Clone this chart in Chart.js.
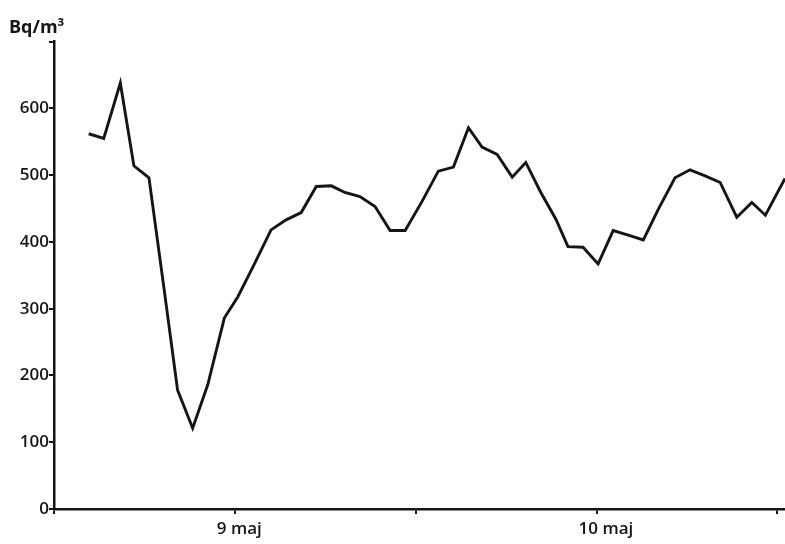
<!DOCTYPE html>
<html>
<head>
<meta charset="utf-8">
<script src="https://cdn.jsdelivr.net/npm/chart.js@4/dist/chart.umd.min.js"></script>
<style>
  html, body { margin: 0; padding: 0; background: #ffffff; }
  #wrap { width: 785px; height: 544px; position: relative; }
</style>
</head>
<body>
<div id="wrap"><canvas id="c"></canvas></div>
<script>
// Radon concentration, hourly readings (hours counted from 8 maj 12:00)
const hours = [2.3, 3.3, 4.4, 5.3, 6.3, 7.3, 8.2, 9.2, 10.2, 11.3,
               12.2, 13.3, 14.4, 15.4, 16.4, 17.4, 18.4, 19.3, 20.3, 21.3,
               22.3, 23.3, 24.4, 25.5, 26.5, 27.5, 28.4, 29.4, 30.4, 31.3,
               32.3, 33.3, 34.1, 35.1, 36.1, 37.1, 38.1, 39.1, 40.1, 41.2,
               42.2, 43.2, 44.2, 45.3, 46.3, 47.2, 48.5];
const radon = [562, 555, 638, 514, 496, 330, 178, 121, 186, 286,
               318, 367, 418, 433, 444, 483, 484, 474, 468, 453,
               417, 417, 460, 506, 512, 571, 542, 531, 497, 519,
               474, 434, 393, 392, 367, 417, 410, 403, 449, 496,
               508, 499, 489, 437, 459, 440, 495];

// x-axis ticks every 12 hours; only midnights carry a date label
const xTicks = [0, 12, 24, 36, 48];
const xTickLabels = ['', '9 maj', '', '10 maj', ''];
const yTicks = [0, 100, 200, 300, 400, 500, 600, 700];
const yTickLabels = ['0', '100', '200', '300', '400', '500', '600', ''];
const unitLabel = 'Bq/m\u00B3';

const points = hours.map((h, i) => ({ x: h, y: radon[i] }));
const ink = '#151515';
const tickFont = { family: 'Open Sans', size: 17, weight: '600' };

new Chart(document.getElementById('c'), {
  type: 'line',
  data: {
    datasets: [{
      data: points,
      borderColor: ink,
      borderWidth: 2.9,
      pointRadius: 0,
      tension: 0,
      fill: false
    }]
  },
  options: {
    responsive: true,
    maintainAspectRatio: false,
    animation: false,
    layout: { padding: { left: 9, right: 0, top: 0, bottom: 0 } },
    plugins: {
      legend: { display: false },
      tooltip: { enabled: false },
      title: {
        display: true,
        text: unitLabel,
        align: 'start',
        color: ink,
        font: { family: 'Open Sans', size: 18, weight: '700' },
        padding: { top: 17, bottom: 3 }
      }
    },
    scales: {
      x: {
        type: 'linear',
        min: 0,
        max: 48.5,
        afterBuildTicks: (s) => { s.ticks = xTicks.map(v => ({ value: v })); },
        afterFit: (s) => { s.height = 35; },
        border: { display: true, color: ink, width: 2.5 },
        grid: { drawOnChartArea: false, drawTicks: true, tickLength: 5, color: ink, lineWidth: 2 },
        ticks: {
          autoSkip: false,
          maxRotation: 0,
          align: 'start',
          labelOffset: -18,
          padding: 5,
          color: ink,
          font: tickFont,
          callback: (v) => xTickLabels[xTicks.indexOf(v)] ?? ''
        }
      },
      y: {
        min: 0,
        max: 700,
        afterBuildTicks: (s) => { s.ticks = yTicks.map(v => ({ value: v })); },
        afterFit: (s) => { s.width = 45; },
        border: { display: true, color: ink, width: 2.5 },
        grid: { drawOnChartArea: false, drawTicks: true, tickLength: 5, color: ink, lineWidth: 2 },
        ticks: {
          padding: 0,
          color: ink,
          font: tickFont,
          callback: (v) => yTickLabels[yTicks.indexOf(v)] ?? ''
        }
      }
    }
  }
});
</script>
</body>
</html>
